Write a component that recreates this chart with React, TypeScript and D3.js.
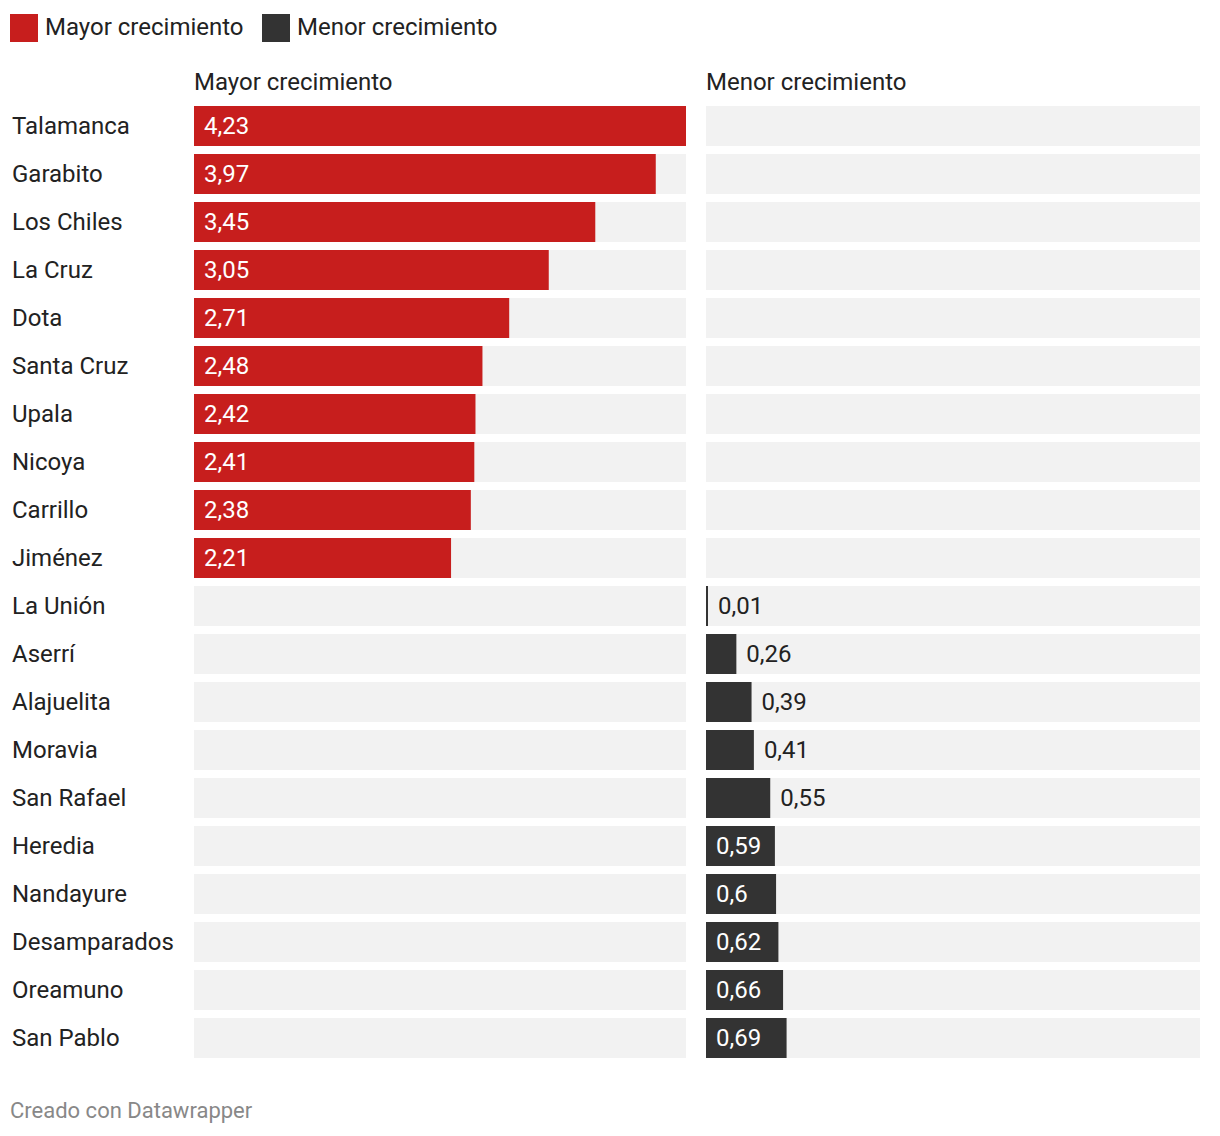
import React from "react";
import * as d3 from "d3";

const categories = ["Talamanca","Garabito","Los Chiles","La Cruz","Dota","Santa Cruz","Upala","Nicoya","Carrillo","Jiménez","La Unión","Aserrí","Alajuelita","Moravia","San Rafael","Heredia","Nandayure","Desamparados","Oreamuno","San Pablo"];
const mayor: (number | null)[] = [4.23,3.97,3.45,3.05,2.71,2.48,2.42,2.41,2.38,2.21,null,null,null,null,null,null,null,null,null,null];
const menor: (number | null)[] = [null,null,null,null,null,null,null,null,null,null,0.01,0.26,0.39,0.41,0.55,0.59,0.6,0.62,0.66,0.69];
const seriesNames = ["Mayor crecimiento","Menor crecimiento"];
const colors = ["#c71e1d","#333333"];

const W = 1220, H = 1136;
const font = "Roboto, 'Noto Sans', sans-serif";
const FS = 24;

export default function App() {
  const y = d3.scaleBand<string>().domain(categories).range([106, 106 + 48 * 20 - 8]).paddingInner(8 / 48).paddingOuter(0);
  const bh = y.bandwidth();
  const xL = d3.scaleLinear().domain([0, 4.23]).range([194, 686]);
  const xR = d3.scaleLinear().domain([0, 4.23]).range([706, 1200]);
  const fmt = (v: number) => String(v).replace(".", ",");
  const panels = [
    { data: mayor, x: xL, color: colors[0], title: seriesNames[0] },
    { data: menor, x: xR, color: colors[1], title: seriesNames[1] },
  ];
  return (
    <svg width={W} height={H} style={{ display: "block", position: "absolute", left: 0, top: 0 }} fontFamily={font}>
      <rect width={W} height={H} fill="#fff" />
      <rect x={10} y={14} width={28} height={28} fill={colors[0]} />
      <text x={45} y={34.5} fontSize={FS} fill="#222">{seriesNames[0]}</text>
      <rect x={262} y={14} width={28} height={28} fill={colors[1]} />
      <text x={297} y={34.5} fontSize={FS} fill="#222">{seriesNames[1]}</text>
      {panels.map((p, i) => (
        <g key={i}>
          <text x={p.x.range()[0]} y={90} fontSize={FS} fill="#222">{p.title}</text>
          {categories.map((c, j) => {
            const y0 = y(c)!;
            const v = p.data[j];
            const x0 = p.x(0);
            const x1 = p.x.range()[1];
            let bar = null, label = null;
            if (v != null) {
              const w = Math.max(p.x(v) - x0, 2);
              const txt = fmt(v);
              const inside = w > 68;
              bar = <rect x={x0} y={y0} width={w} height={bh} fill={p.color} />;
              label = (
                <text x={inside ? x0 + 10 : x0 + w + 10} y={y0 + bh / 2 + 8} fontSize={FS} fill={inside ? "#fff" : "#222"}>{txt}</text>
              );
            }
            return (
              <g key={c}>
                <rect x={x0} y={y0} width={x1 - x0} height={bh} fill="#f2f2f2" />
                {bar}
                {label}
              </g>
            );
          })}
        </g>
      ))}
      {categories.map((c) => (
        <text key={c} x={12} y={y(c)! + bh / 2 + 8} fontSize={FS} fill="#222">{c}</text>
      ))}
      <text x={10} y={1118} fontSize={22} fill="#888">Creado con Datawrapper</text>
    </svg>
  );
}
